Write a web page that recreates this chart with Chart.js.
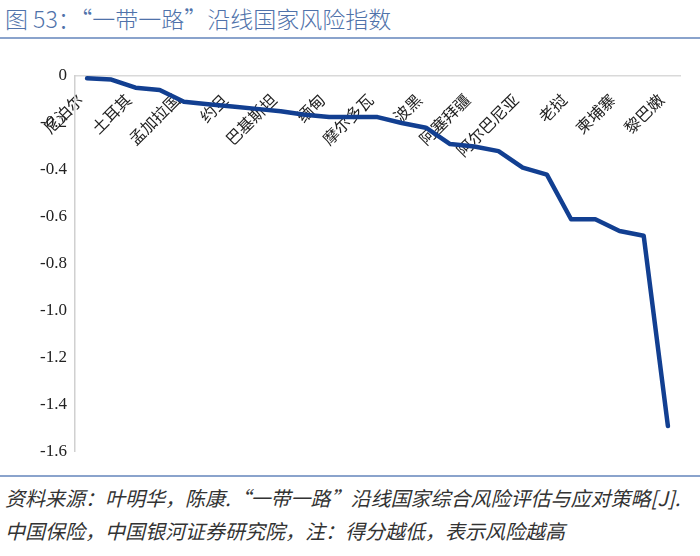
<!DOCTYPE html>
<html>
<head>
<meta charset="utf-8">
<script src="https://cdn.jsdelivr.net/npm/chart.js@4/dist/chart.umd.min.js"></script>
<style>
  body { margin: 0; width: 700px; height: 556px; overflow: hidden; background: #fff; position: relative; }
  #title { position: absolute; left: 5px; top: 1px; font: 300 23px "Noto Sans CJK SC", sans-serif; color: #4f72aa; white-space: nowrap; }
  .rule { position: absolute; left: 0; width: 700px; height: 2px; background: #8aa3cc; }
  #wrap { position: absolute; left: 0; top: 40px; width: 700px; height: 430px; }
  #foot { position: absolute; left: 5px; top: 481px; font: italic 20px "Noto Sans CJK SC", sans-serif; color: #333; line-height: 33px; white-space: nowrap; }
</style>
</head>
<body>
<div id="title">图 53：“一带一路”沿线国家风险指数</div>
<div class="rule" style="top:37px"></div>
<div id="wrap"><canvas id="riskChart"></canvas></div>
<div class="rule" style="top:475px"></div>
<div id="foot">资料来源：叶明华，陈康.“一带一路”沿线国家综合风险评估与应对策略[J].<br>中国保险，中国银河证券研究院，注：得分越低，表示风险越高</div>
<script>
// 25 countries, only every other name is printed on the axis
const countries = ['尼泊尔', '', '土耳其', '', '孟加拉国', '', '约旦', '', '巴基斯坦', '', '缅甸', '', '摩尔多瓦',
    '', '波黑', '', '阿塞拜疆', '', '阿尔巴尼亚', '', '老挝', '', '柬埔寨', '', '黎巴嫩'];
const riskIndex = [-0.01, -0.015, -0.05, -0.06, -0.11, -0.12, -0.13, -0.14, -0.15, -0.165, -0.175, -0.175, -0.175,
    -0.2, -0.22, -0.29, -0.3, -0.32, -0.39, -0.42, -0.61, -0.61, -0.66, -0.68, -1.49];
const yMin = -1.6, yMax = 0, yStep = 0.2;

const ctx = document.getElementById('riskChart');

new Chart(ctx, {
    type: 'line',
    data: {
        labels: countries,
        datasets: [{
            data: riskIndex,
            borderColor: '#123f91',
            borderWidth: 4.5,
            pointRadius: 0,
            tension: 0,
            borderJoinStyle: 'round',
            borderCapStyle: 'round'
        }]
    },
    options: {
        animation: false,
        responsive: true,
        maintainAspectRatio: false,
        layout: { padding: { top: 36, right: 20, bottom: 18, left: 0 } },
        plugins: { legend: { display: false }, tooltip: { enabled: false } },
        scales: {
            x: {
                position: { y: 0 },
                offset: true,
                afterFit: s => { s.height = 0; },
                grid: { display: false, drawTicks: false },
                border: { display: true, color: '#d9d9d9', width: 1.5 },
                ticks: {
                    autoSkip: false,
                    minRotation: 45,
                    maxRotation: 45,
                    padding: 14,
                    labelOffset: -7,
                    color: '#222',
                    font: { family: '"Noto Sans CJK SC", sans-serif', size: 16 },
                    callback: (v, i) => countries[i]
                }
            },
            y: {
                min: yMin,
                max: yMax,
                afterFit: s => { s.width = 75; },
                grid: { display: false, drawTicks: false },
                border: { display: true, color: '#d0d0d0', width: 1.5 },
                ticks: {
                    stepSize: yStep,
                    padding: 8,
                    color: '#222',
                    font: { family: '"Liberation Serif", serif', size: 17 }
                }
            }
        }
    }
});
</script>
</body>
</html>
